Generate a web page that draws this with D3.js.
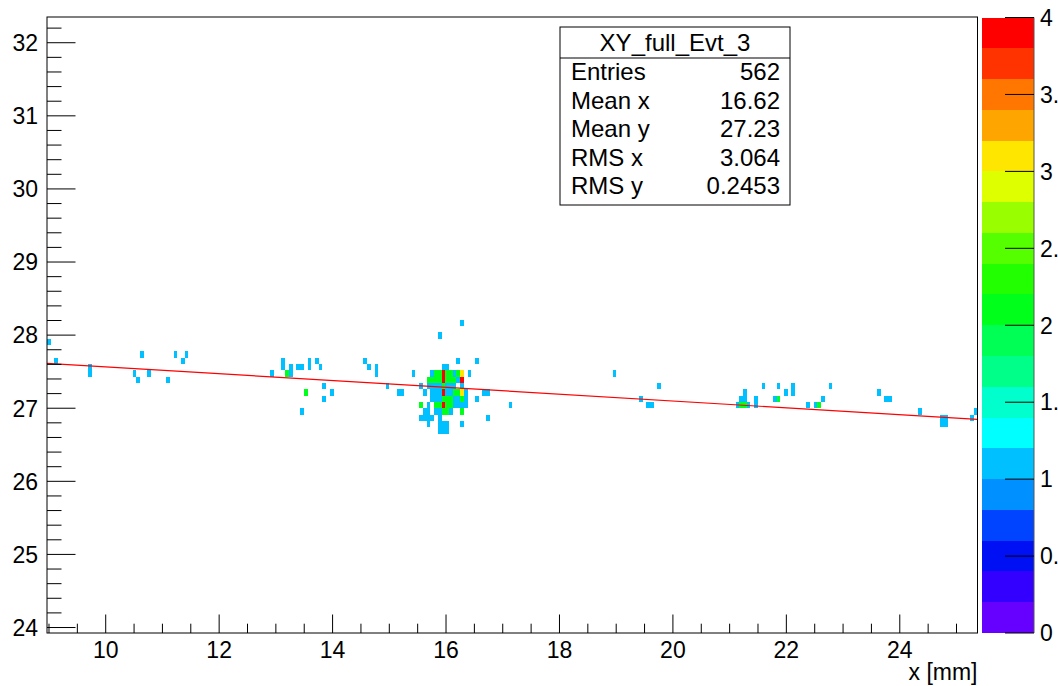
<!DOCTYPE html>
<html><head><meta charset="utf-8">
<script src="https://cdn.jsdelivr.net/npm/d3@7"></script>
<style>
body{margin:0;background:#fff;overflow:hidden}
svg{display:block}
text{font-family:"Liberation Sans",Arial,Helvetica,sans-serif;fill:#000}
</style>
</head><body>
<svg id="chart" width="1058" height="686"></svg>
<script>
// ---------- data ----------
const histTitle = "XY_full_Evt_3";
const xAxisTitle = "x [mm]";
const xRange = [8.965, 25.37];
const yRange = [23.925, 32.352];
const nBinsX = 250;
const yBinOrigin = 23.967, yBinWidth = 0.0866;
const zRange = [0, 4];
const nContours = 20;
const xTicks = [10, 12, 14, 16, 18, 20, 22, 24];
const yTicks = [24, 25, 26, 27, 28, 29, 30, 31, 32];
const zTicks = [0, 0.5, 1, 1.5, 2, 2.5, 3, 3.5, 4];
const statLabels = ["Entries", "Mean x", "Mean y", "RMS x", "RMS y"];
const statValues = ["562", "16.62", "27.23", "3.064", "0.2453"];
const fitX = [8.965, 25.37];
const fitY = [27.614, 26.848];
const palette = ["#6600ff","#3300ff","#0010f5","#0044ff","#0090ff","#00c0ff","#00ffff","#00ffcc",
  "#00ff88","#00ff55","#00ff1a","#22ff00","#55ff00","#99ff00","#ddff00","#ffe600","#ffa500",
  "#ff7700","#ff3300","#ff0000"];
// cells: [x (mm), y (mm), counts]
const cells = [
 [8.998,27.907,1],[9.129,27.648,1],[9.69,27.561,1],[9.69,27.475,1],
 [10.51,27.475,1],[10.57,27.388,1],[10.63,27.734,1],[10.75,27.475,1],[11.13,27.388,1],
 [11.26,27.734,1],[11.38,27.648,1],[11.45,27.734,1],
 [12.905,27.475,1],[13.16,27.648,1],[13.16,27.561,1],[13.22,27.475,2],[13.29,27.561,1],[13.29,27.475,1],
 [13.41,27.561,1],[13.47,27.561,1],[13.56,27.648,1],[13.56,27.561,1],[13.72,27.648,1],[13.79,27.561,1],
 [13.50,27.215,2],[13.83,27.301,1],[13.98,27.215,1],[13.83,27.128,1],[13.49,26.955,1],
 [14.55,27.648,1],[14.61,27.561,1],[14.74,27.561,1],[14.74,27.475,1],[15.0,27.301,1],
 [15.16,27.215,1],[15.23,27.215,1],
 // cluster
 [15.886,28.008,1],[16.25,28.186,1],
 [16.214,27.648,1],[16.542,27.648,1],
 [15.952,27.561,1],[16.018,27.561,1],
 [15.427,27.475,1],[15.755,27.475,1],[15.821,27.475,2],[15.886,27.475,2],[15.952,27.475,4],[16.018,27.475,2],
 [16.083,27.475,2],[16.149,27.475,1],[16.214,27.475,2],[16.28,27.475,3],[16.411,27.475,1],
 [15.69,27.388,2],[15.755,27.388,2],[15.821,27.388,2],[15.886,27.388,2],[15.952,27.388,4],[16.018,27.388,2],
 [16.083,27.388,2],[16.149,27.388,2],[16.214,27.388,1],[16.28,27.388,4],
 [15.558,27.301,1],[15.69,27.301,1],[15.755,27.301,1],[15.821,27.301,1],[15.886,27.301,1],[15.952,27.301,2],
 [16.018,27.301,1],[16.083,27.301,1],[16.149,27.301,1],[16.28,27.301,1],
 [15.624,27.215,1],[15.755,27.215,1],[15.821,27.215,1],[15.886,27.215,1],[15.952,27.215,4],[16.018,27.215,1],
 [16.083,27.215,1],[16.149,27.215,2],[16.214,27.215,2],[16.28,27.215,3],[16.346,27.215,1],[16.674,27.215,1],[16.739,27.215,1],
 [15.755,27.128,1],[15.821,27.128,1],[15.886,27.128,1],[15.952,27.128,2],[16.018,27.128,2],[16.083,27.128,2],
 [16.149,27.128,1],[16.214,27.128,1],[16.28,27.128,2],[16.346,27.128,1],[16.542,27.128,1],
 [15.558,27.042,2],[15.69,27.042,1],[15.821,27.042,2],[15.886,27.042,2],[15.952,27.042,4],[16.018,27.042,2],
 [16.083,27.042,2],[16.149,27.042,1],[16.214,27.042,1],[16.28,27.042,1],[16.346,27.042,1],[17.13,27.042,1],
 [15.624,26.955,1],[15.69,26.955,1],[15.821,26.955,1],[15.886,26.955,1],[15.952,26.955,2],[16.018,26.955,2],
 [16.083,26.955,1],[16.28,26.955,2],
 [15.558,26.868,1],[15.624,26.868,1],[15.69,26.868,1],[15.755,26.868,1],[15.886,26.868,1],[16.739,26.868,1],
 [15.69,26.782,1],[15.886,26.782,1],[15.952,26.782,1],[16.018,26.782,1],[16.28,26.782,1],
 [15.886,26.695,1],[15.952,26.695,1],[16.018,26.695,1],
 // right side
 [18.985,27.475,1],[19.74,27.301,1],[19.43,27.128,1],[19.57,27.042,1],[19.63,27.042,1],
 [21.15,27.042,1],[21.21,27.042,2],[21.27,27.042,2],[21.33,27.042,1],[21.45,27.042,1],[21.45,27.128,1],
 [21.21,27.128,1],[21.27,27.128,1],[21.27,27.215,1],
 [21.58,27.301,1],[21.88,27.301,1],[22.15,27.301,1],[22.78,27.301,1],[21.96,27.215,1],[22.09,27.215,1],
 [21.79,27.128,1],[21.86,27.128,2],[22.38,27.042,1],[22.53,27.042,1],[22.61,27.042,2],[22.67,27.128,1],
 [23.6,27.215,1],[23.73,27.128,1],[23.80,27.128,1],[23.86,27.128,1],
 [24.35,26.955,1],[24.74,26.868,1],[24.80,26.868,1],[24.77,26.782,1],[24.83,26.782,1],
 [25.27,26.868,1],[25.33,26.955,1]
];

// ---------- layout ----------
const frame = {l: 47, r: 977.5, t: 17, b: 633};
const svg = d3.select("#chart");
const x = d3.scaleLinear().domain(xRange).range([frame.l, frame.r]);
const y = d3.scaleLinear().domain(yRange).range([frame.b, frame.t]);
const dx = (xRange[1] - xRange[0]) / nBinsX;
const colorOf = v => palette[Math.min(nContours - 1, Math.floor((v - zRange[0]) / (zRange[1] - zRange[0]) * nContours))];

svg.append("defs").append("clipPath").attr("id", "fc")
  .append("rect").attr("x", frame.l).attr("y", frame.t)
  .attr("width", frame.r - frame.l).attr("height", frame.b - frame.t);

const g = svg.append("g").attr("clip-path", "url(#fc)");
g.selectAll("rect.cell").data(cells).join("rect").attr("class", "cell")
  .attr("shape-rendering", "crispEdges")
  .each(function(d) {
    const ix = Math.floor((d[0] - xRange[0]) / dx);
    const iy = Math.floor((d[1] - yBinOrigin) / yBinWidth);
    const x0 = xRange[0] + ix * dx, x1 = x0 + dx;
    const y0 = yBinOrigin + iy * yBinWidth, y1 = y0 + yBinWidth;
    d3.select(this).attr("x", x(x0)).attr("width", x(x1) - x(x0))
      .attr("y", y(y1)).attr("height", y(y0) - y(y1))
      .attr("fill", colorOf(d[2]));
  });

// fit line
g.append("path").datum(d3.zip(fitX, fitY))
  .attr("d", d3.line().x(d => x(d[0])).y(d => y(d[1])))
  .attr("fill", "none").attr("stroke", "#ff0000").attr("stroke-width", 1.2);

// frame
svg.append("rect").attr("x", frame.l).attr("y", frame.t)
  .attr("width", frame.r - frame.l).attr("height", frame.b - frame.t)
  .attr("fill", "none").attr("stroke", "#000").attr("stroke-width", 1);

// x axis ticks
const xMinor = d3.range(9, 25.4, 0.5).filter(v => v >= xRange[0] && v <= xRange[1]);
svg.append("g").selectAll("line").data(xMinor).join("line")
  .attr("x1", d => x(d)).attr("x2", d => x(d))
  .attr("y1", frame.b).attr("y2", d => frame.b - (Math.abs(d % 2) < 1e-6 ? 18.5 : 9.3))
  .attr("stroke", "#000").attr("stroke-width", 1);
svg.append("g").selectAll("text").data(xTicks).join("text")
  .attr("x", d => x(d)).attr("y", 658).attr("text-anchor", "middle")
  .attr("font-size", 23).text(d => d);
svg.append("text").attr("x", frame.r).attr("y", 680).attr("text-anchor", "end")
  .attr("font-size", 23).text(xAxisTitle);

// y axis ticks
const yMinor = d3.range(24, 32.4, 0.2).filter(v => v >= yRange[0] && v <= yRange[1]);
svg.append("g").selectAll("line").data(yMinor).join("line")
  .attr("y1", d => y(d)).attr("y2", d => y(d))
  .attr("x1", frame.l).attr("x2", d => frame.l + (Math.abs(d - Math.round(d)) < 1e-6 ? 28.5 : 14.5))
  .attr("stroke", "#000").attr("stroke-width", 1);
svg.append("g").selectAll("text").data(yTicks).join("text")
  .attr("x", 38).attr("y", d => y(d)).attr("dy", "0.36em").attr("text-anchor", "end")
  .attr("font-size", 23).text(d => d);

// color bar
const cb = {l: 981.5, r: 1034, t: 17.5, b: 633};
const zs = d3.scaleLinear().domain(zRange).range([cb.b, cb.t]);
const bw = (zRange[1] - zRange[0]) / nContours;
const bandEdges = d3.range(nContours).map(i => zRange[0] + i * bw);
svg.append("g").selectAll("rect").data(bandEdges).join("rect")
  .attr("x", cb.l).attr("width", cb.r - cb.l)
  .attr("y", d => zs(d + bw)).attr("height", d => zs(d) - zs(d + bw))
  .attr("fill", d => colorOf(d + bw / 2)).attr("shape-rendering", "crispEdges");
svg.append("line").attr("x1", cb.r).attr("x2", cb.r).attr("y1", cb.t).attr("y2", cb.b)
  .attr("stroke", "#555").attr("stroke-width", 1);
svg.append("g").selectAll("line").data(zTicks).join("line")
  .attr("x1", cb.r - 29).attr("x2", cb.r).attr("y1", d => zs(d)).attr("y2", d => zs(d))
  .attr("stroke", "#000").attr("stroke-width", 1);
svg.append("g").selectAll("text").data(zTicks).join("text")
  .attr("x", 1040).attr("y", d => zs(d)).attr("dy", "0.36em")
  .attr("font-size", 23).text(d => d);

// stats box
const sb = {l: 560, r: 790, t: 27, b: 205, sep: 58};
svg.append("rect").attr("x", sb.l).attr("y", sb.t).attr("width", sb.r - sb.l).attr("height", sb.b - sb.t)
  .attr("fill", "#fff").attr("stroke", "#000").attr("stroke-width", 1);
svg.append("line").attr("x1", sb.l).attr("x2", sb.r).attr("y1", sb.sep).attr("y2", sb.sep)
  .attr("stroke", "#000").attr("stroke-width", 1);
svg.append("text").attr("x", (sb.l + sb.r) / 2).attr("y", 51).attr("text-anchor", "middle")
  .attr("font-size", 24).text(histTitle);
statLabels.forEach((s, i) => {
  const yy = 80 + i * 28.6;
  svg.append("text").attr("x", 571).attr("y", yy).attr("font-size", 24).text(s);
  svg.append("text").attr("x", 780).attr("y", yy).attr("text-anchor", "end").attr("font-size", 24).text(statValues[i]);
});
</script>
</body></html>
